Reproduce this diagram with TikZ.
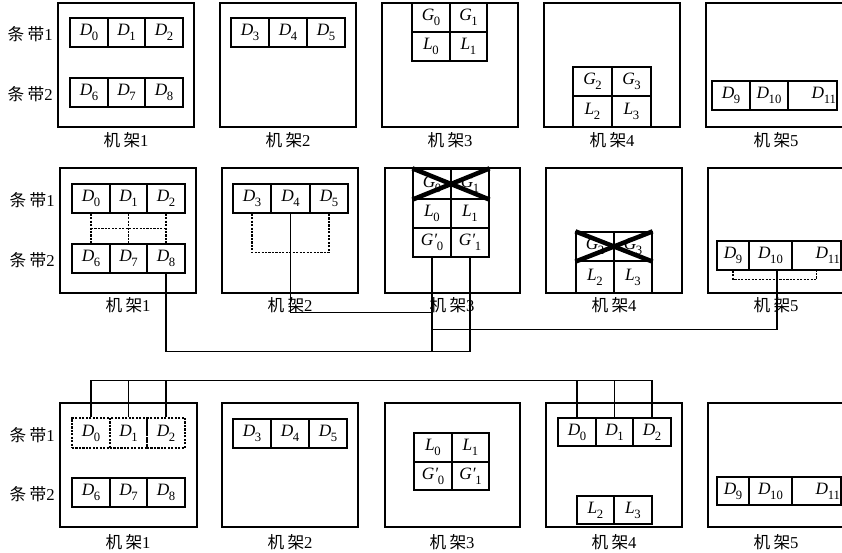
\documentclass[tikz,border=0pt]{standalone}
\usepackage{fontspec}
\setmainfont{Liberation Serif}
\newfontfamily\cjk{Noto Sans CJK SC}
\usetikzlibrary{calc}

% italic letter with an upright lowered index
\newcommand{\lb}[2]{\textit{#1}\kern-0.3pt\raisebox{-0.28em}{\fontsize{9.5}{9.5}\selectfont #2}}
% rack and stripe captions
\newcommand{\jj}[1]{{\cjk 机\hspace{2.5pt}架}#1}
\newcommand{\tb}[1]{{\cjk 条\hspace{2.5pt}带}#1}
% box node from its corners: style, name, x1, y1, x2, y2, text
\newcommand{\boxnode}[7]{\node[#1, minimum width={(#5-#3)*0.75pt}, minimum height={(#6-#4)*0.75pt}] (#2) at ({(#3+#5)/2},{(#4+#6)/2}) {#7};}

\tikzset{
  rack/.style={draw, line width=1.1pt, inner sep=0pt},
  cellbox/.style={draw, line width=0.95pt, inner sep=0pt, font=\fontsize{13pt}{15pt}\selectfont},
  dcell/.style={cellbox, dash pattern=on 1.6pt off 1pt},
  wire/.style={line width=1pt},
  dwire/.style={line width=0.95pt, dash pattern=on 1.6pt off 1pt},
  cross/.style={line width=3.4pt},
  slabel/.style={anchor=east, inner sep=0pt, font=\fontsize{12.5pt}{14pt}\selectfont},
  rlabel/.style={inner sep=0pt, font=\fontsize{12.5pt}{14pt}\selectfont},
  rtext/.style={anchor=east, inner sep=0pt, xshift=-1pt, font=\fontsize{13pt}{15pt}\selectfont},
}

\begin{document}
\begin{tikzpicture}[x=0.75pt, y=-0.75pt]
\clip (0,0) rectangle (842,553);

% ===== first row: initial placement =====
\boxnode{rack}{k11}{58}{3}{194}{127}{}
\boxnode{rack}{k12}{220}{3}{356}{127}{}
\boxnode{rack}{k13}{382}{3}{518}{127}{}
\boxnode{rack}{k14}{544}{3}{680}{127}{}
\boxnode{rack}{k15}{706}{3}{843}{127}{}

\boxnode{cellbox}{a-D0}{70}{18}{108}{47}{\lb{D}{0}}
\boxnode{cellbox}{a-D1}{108}{18}{145}{47}{\lb{D}{1}}
\boxnode{cellbox}{a-D2}{145}{18}{183}{47}{\lb{D}{2}}
\boxnode{cellbox}{a-D6}{70}{78}{108}{107}{\lb{D}{6}}
\boxnode{cellbox}{a-D7}{108}{78}{145}{107}{\lb{D}{7}}
\boxnode{cellbox}{a-D8}{145}{78}{183}{107}{\lb{D}{8}}

\boxnode{cellbox}{a-D3}{231}{18}{269}{47}{\lb{D}{3}}
\boxnode{cellbox}{a-D4}{269}{18}{307}{47}{\lb{D}{4}}
\boxnode{cellbox}{a-D5}{307}{18}{345}{47}{\lb{D}{5}}

\boxnode{cellbox}{a-G0}{412}{3}{450}{32}{\lb{G}{0}}
\boxnode{cellbox}{a-G1}{450}{3}{487}{32}{\lb{G}{1}}
\boxnode{cellbox}{a-L0}{412}{32}{450}{61}{\lb{L}{0}}
\boxnode{cellbox}{a-L1}{450}{32}{487}{61}{\lb{L}{1}}

\boxnode{cellbox}{a-G2}{573}{67}{612}{96}{\lb{G}{2}}
\boxnode{cellbox}{a-G3}{612}{67}{651}{96}{\lb{G}{3}}
\boxnode{cellbox}{a-L2}{573}{96}{612}{127}{\lb{L}{2}}
\boxnode{cellbox}{a-L3}{612}{96}{651}{127}{\lb{L}{3}}

\boxnode{cellbox}{a-D9}{712}{81}{750}{110}{\lb{D}{9}}
\boxnode{cellbox}{a-D10}{750}{81}{788}{110}{\lb{D}{10}}
\boxnode{cellbox}{a-D11}{788}{81}{837}{110}{}
\node[rtext] (a-t11) at (a-D11.east) {\lb{D}{11}};

\node[slabel] (s11) at (53,34) {\tb{1}};
\node[slabel] (s12) at (53,94) {\tb{2}};
\node[rlabel] (j11) at (126,140) {\jj{1}};
\node[rlabel] (j12) at (288,140) {\jj{2}};
\node[rlabel] (j13) at (450,140) {\jj{3}};
\node[rlabel] (j14) at (612,140) {\jj{4}};
\node[rlabel] (j15) at (776,140) {\jj{5}};

% ===== second row: failure and repair =====
\boxnode{rack}{k21}{60}{168}{196}{293}{}
\boxnode{rack}{k22}{222}{168}{358}{293}{}
\boxnode{rack}{k23}{385}{168}{520}{293}{}
\boxnode{rack}{k24}{546}{168}{682}{293}{}
\boxnode{rack}{k25}{708}{168}{843}{293}{}

\boxnode{cellbox}{b-D0}{72}{184}{110}{213}{\lb{D}{0}}
\boxnode{cellbox}{b-D1}{110}{184}{147}{213}{\lb{D}{1}}
\boxnode{cellbox}{b-D2}{147}{184}{185}{213}{\lb{D}{2}}
\boxnode{cellbox}{b-D6}{72}{244}{110}{273}{\lb{D}{6}}
\boxnode{cellbox}{b-D7}{110}{244}{147}{273}{\lb{D}{7}}
\boxnode{cellbox}{b-D8}{147}{244}{185}{273}{\lb{D}{8}}

\boxnode{cellbox}{b-D3}{233}{184}{271}{213}{\lb{D}{3}}
\boxnode{cellbox}{b-D4}{271}{184}{310}{213}{\lb{D}{4}}
\boxnode{cellbox}{b-D5}{310}{184}{348}{213}{\lb{D}{5}}

\boxnode{cellbox}{b-G0}{413}{169}{451}{199}{\lb{G}{0}}
\boxnode{cellbox}{b-G1}{451}{169}{489}{199}{\lb{G}{1}}
\boxnode{cellbox}{b-L0}{413}{199}{451}{228}{\lb{L}{0}}
\boxnode{cellbox}{b-L1}{451}{199}{489}{228}{\lb{L}{1}}
\boxnode{cellbox}{b-Gp0}{413}{228}{451}{257}{\lb{G′}{0}}
\boxnode{cellbox}{b-Gp1}{451}{228}{489}{257}{\lb{G′}{1}}

\boxnode{cellbox}{b-G2}{576}{232}{614}{261}{\lb{G}{2}}
\boxnode{cellbox}{b-G3}{614}{232}{652}{261}{\lb{G}{3}}
\boxnode{cellbox}{b-L2}{576}{261}{614}{293}{\lb{L}{2}}
\boxnode{cellbox}{b-L3}{614}{261}{652}{293}{\lb{L}{3}}

\boxnode{cellbox}{b-D9}{717}{241}{749}{270}{\lb{D}{9}}
\boxnode{cellbox}{b-D10}{749}{241}{792}{270}{\lb{D}{10}}
\boxnode{cellbox}{b-D11}{792}{241}{841}{270}{}
\node[rtext] (b-t11) at (b-D11.east) {\lb{D}{11}};

\node[slabel] (s21) at (55,200) {\tb{1}};
\node[slabel] (s22) at (55,260) {\tb{2}};
\node[rlabel] (j21) at (128,305) {\jj{1}};
\node[rlabel] (j22) at (290,305) {\jj{2}};
\node[rlabel] (j23) at (452,305) {\jj{3}};
\node[rlabel] (j24) at (614,305) {\jj{4}};
\node[rlabel] (j25) at (776,305) {\jj{5}};

% lost global parities
\draw[cross] (b-G0.north west) -- (b-G1.south east);
\draw[cross] (b-G0.south west) -- (b-G1.north east);
\draw[cross] (b-G2.north west) -- (b-G3.south east);
\draw[cross] (b-G2.south west) -- (b-G3.north east);

% local groups (dashed)
\draw[dwire] (b-D0.south) -- (b-D6.north);
\draw[dwire] (b-D1.south) -- (b-D7.north);
\draw[dwire] (b-D2.south) -- (b-D8.north);
\draw[dwire] ($(b-D0.south)!.5!(b-D6.north)$) -- ($(b-D2.south)!.5!(b-D8.north)$);
\draw[dwire] (b-D3.south) -- ++(0,39) -| (b-D5.south);
\draw[dwire] (b-D9.south) -- ++(0,9) -| (b-D11.south);

% repair links to rack 3
\coordinate (lowbus) at ($(b-D8.south)+(0,78)$);
\draw[wire] (b-D8.south) -- (lowbus) -| (b-Gp1.south);
\draw[wire] (b-Gp0.south) -- (b-Gp0.south |- lowbus);
\coordinate (midA) at ($(b-D4.south)+(0,99)$);
\draw[wire] (b-D4.south) -- (midA) -- (midA -| b-Gp0.south);
\coordinate (d10p) at ($(b-D10.south)+(6.5,0)$);
\coordinate (midB) at ($(d10p)+(0,59)$);
\draw[wire] (d10p) -- (midB) -- (midB -| b-Gp0.south);

% ===== third row: migrated stripe =====
\boxnode{rack}{k31}{60}{403}{197}{527}{}
\boxnode{rack}{k32}{222}{403}{358}{527}{}
\boxnode{rack}{k33}{385}{403}{520}{527}{}
\boxnode{rack}{k34}{546}{403}{682}{527}{}
\boxnode{rack}{k35}{708}{403}{843}{527}{}

\boxnode{dcell}{c-D0}{72}{418}{110}{448}{\lb{D}{0}}
\boxnode{dcell}{c-D1}{110}{418}{147}{448}{\lb{D}{1}}
\boxnode{dcell}{c-D2}{147}{418}{185}{448}{\lb{D}{2}}
\boxnode{cellbox}{c-D6}{72}{478}{110}{507}{\lb{D}{6}}
\boxnode{cellbox}{c-D7}{110}{478}{147}{507}{\lb{D}{7}}
\boxnode{cellbox}{c-D8}{147}{478}{185}{507}{\lb{D}{8}}

\boxnode{cellbox}{c-D3}{233}{419}{271}{448}{\lb{D}{3}}
\boxnode{cellbox}{c-D4}{271}{419}{309}{448}{\lb{D}{4}}
\boxnode{cellbox}{c-D5}{309}{419}{347}{448}{\lb{D}{5}}

\boxnode{cellbox}{c-L0}{414}{433}{452}{462}{\lb{L}{0}}
\boxnode{cellbox}{c-L1}{452}{433}{489}{462}{\lb{L}{1}}
\boxnode{cellbox}{c-Gp0}{414}{462}{452}{490}{\lb{G′}{0}}
\boxnode{cellbox}{c-Gp1}{452}{462}{489}{490}{\lb{G′}{1}}

\boxnode{cellbox}{d-D0}{558}{418}{596}{446}{\lb{D}{0}}
\boxnode{cellbox}{d-D1}{596}{418}{633}{446}{\lb{D}{1}}
\boxnode{cellbox}{d-D2}{633}{418}{671}{446}{\lb{D}{2}}
\boxnode{cellbox}{c-L2}{577}{496}{614}{524}{\lb{L}{2}}
\boxnode{cellbox}{c-L3}{614}{496}{652}{524}{\lb{L}{3}}

\boxnode{cellbox}{c-D9}{717}{477}{749}{505}{\lb{D}{9}}
\boxnode{cellbox}{c-D10}{749}{477}{792}{505}{\lb{D}{10}}
\boxnode{cellbox}{c-D11}{792}{477}{841}{505}{}
\node[rtext] (c-t11) at (c-D11.east) {\lb{D}{11}};

\node[slabel] (s31) at (55,435) {\tb{1}};
\node[slabel] (s32) at (55,494) {\tb{2}};
\node[rlabel] (j31) at (128,542) {\jj{1}};
\node[rlabel] (j32) at (290,542) {\jj{2}};
\node[rlabel] (j33) at (452,542) {\jj{3}};
\node[rlabel] (j34) at (614,542) {\jj{4}};
\node[rlabel] (j35) at (776,542) {\jj{5}};

% move links from rack 1 to rack 4
\draw[wire] (c-D0.north) -- ++(0,-37) -| (d-D2.north);
\draw[wire] (c-D1.north) -- ++(0,-37);
\draw[wire] (c-D2.north) -- ++(0,-37);
\draw[wire] (d-D0.north) -- ++(0,-37);
\draw[wire] (d-D1.north) -- ++(0,-37);
\end{tikzpicture}
\end{document}
